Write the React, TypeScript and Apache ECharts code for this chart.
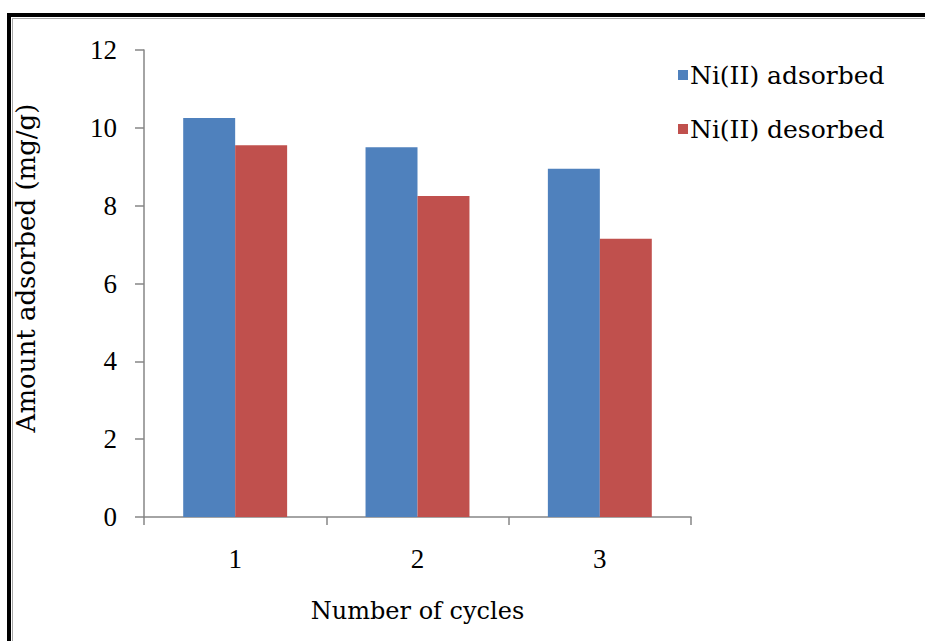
import React, { useEffect, useRef } from "react";
import * as echarts from "echarts";

const cycles = ["1", "2", "3"];
const adsorbed = [10.25, 9.5, 8.95];
const desorbed = [9.55, 8.25, 7.15];
const seriesNames = ["Ni(II) adsorbed", "Ni(II) desorbed"];
const yTitle = "Amount adsorbed (mg/g)";
const xTitle = "Number of cycles";

const TICK_FONT = "'Liberation Serif', 'Times New Roman', serif";
const TITLE_FONT = "'DejaVu Serif', 'Liberation Serif', serif";

export default function App() {
  const ref = useRef<HTMLDivElement>(null);

  useEffect(() => {
    if (!ref.current) return;
    const chart = echarts.init(ref.current, undefined, { renderer: "svg" });
    chart.setOption({
      animation: false,
      backgroundColor: "#ffffff",
      textStyle: { fontFamily: TICK_FONT },
      grid: { left: 144, top: 50, right: 234, bottom: 124, containLabel: false },
      legend: {
        orient: "vertical",
        left: 673,
        top: 55,
        itemWidth: 10,
        itemHeight: 10,
        itemGap: 24,
        icon: "rect",
        textStyle: { fontFamily: TITLE_FONT, fontSize: 25, color: "#000", lineHeight: 30, padding: [0, 0, 0, -3] },
        data: seriesNames,
      },
      xAxis: {
        type: "category",
        data: cycles,
        name: xTitle,
        nameLocation: "middle",
        nameGap: 82,
        nameTextStyle: { fontFamily: TITLE_FONT, fontSize: 24, color: "#000" },
        axisLine: { lineStyle: { color: "#868686", width: 1.5 } },
        axisTick: { show: true, length: 8, lineStyle: { color: "#868686", width: 1.5 } },
        axisLabel: { margin: 28, fontFamily: TICK_FONT, fontSize: 27, color: "#000" },
      },
      yAxis: {
        type: "value",
        min: 0,
        max: 12,
        interval: 2,
        splitLine: { show: false },
        axisLine: { show: true, lineStyle: { color: "#868686", width: 1.5 } },
        axisTick: { show: true, length: 9, lineStyle: { color: "#868686", width: 1.5 } },
        axisLabel: { margin: 27, fontFamily: TICK_FONT, fontSize: 27, color: "#000" },
      },
      series: [
        {
          name: seriesNames[0],
          type: "bar",
          data: adsorbed,
          barGap: "0%",
          barCategoryGap: "43%",
          itemStyle: { color: "#4F81BD" },
        },
        {
          name: seriesNames[1],
          type: "bar",
          data: desorbed,
          itemStyle: { color: "#C0504D" },
        },
      ],
      graphic: [
        { type: "rect", shape: { x: 7, y: 13, width: 930, height: 4 }, style: { fill: "#000" }, silent: true },
        { type: "rect", shape: { x: 7, y: 13, width: 4, height: 640 }, style: { fill: "#000" }, silent: true },
        { type: "line", shape: { x1: 12, y1: 18.5, x2: 925, y2: 18.5 }, style: { stroke: "#a8a8a8", lineWidth: 1 }, silent: true },
        { type: "line", shape: { x1: 12.5, y1: 18, x2: 12.5, y2: 641 }, style: { stroke: "#a8a8a8", lineWidth: 1 }, silent: true },
        {
          type: "text",
          x: 26,
          y: 268,
          rotation: Math.PI / 2,
          style: {
            text: yTitle,
            font: `26px ${TITLE_FONT}`,
            fill: "#000",
            align: "center",
            verticalAlign: "middle",
          },
          silent: true,
        },
      ],
    });
    return () => chart.dispose();
  }, []);

  return (
    <div
      ref={ref}
      style={{ position: "fixed", left: 0, top: 0, width: 925, height: 641 }}
    />
  );
}
